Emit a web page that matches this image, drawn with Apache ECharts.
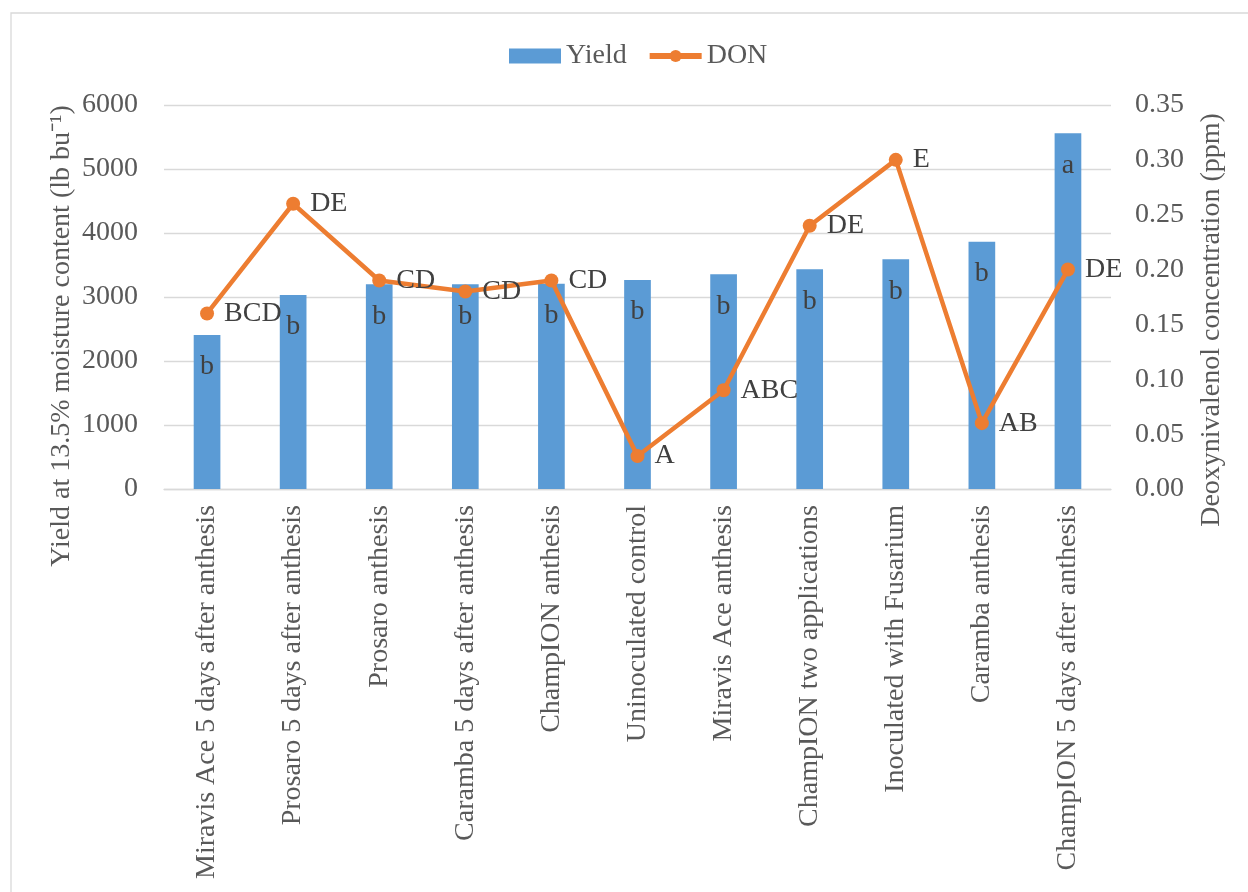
<!DOCTYPE html>
<html>
<head>
<meta charset="utf-8">
<script src="https://cdn.jsdelivr.net/npm/echarts@6/dist/echarts.min.js"></script>
<style>
html,body{margin:0;padding:0;background:#fff;}
#chart{width:1248px;height:892px;}
</style>
</head>
<body>
<div id="chart"></div>
<script>
const categories = [
  'Miravis Ace 5 days after anthesis',
  'Prosaro 5 days after anthesis',
  'Prosaro anthesis',
  'Caramba 5 days after anthesis',
  'ChampION anthesis',
  'Uninoculated control',
  'Miravis Ace anthesis',
  'ChampION two applications',
  'Inoculated with Fusarium',
  'Caramba anthesis',
  'ChampION 5 days after anthesis'
];
const yieldValues = [2406, 3030, 3200, 3200, 3208, 3266, 3354, 3432, 3589, 3864, 5557];
const yieldLetters = ['b', 'b', 'b', 'b', 'b', 'b', 'b', 'b', 'b', 'b', 'a'];
const donValues = [0.16, 0.26, 0.19, 0.18, 0.19, 0.03, 0.09, 0.24, 0.30, 0.06, 0.20];
const donLetters = ['BCD', 'DE', 'CD', 'CD', 'CD', 'A', 'ABC', 'DE', 'E', 'AB', 'DE'];

const FONT = "'Liberation Serif', 'Times New Roman', serif";
const FS = 28;

const chart = echarts.init(document.getElementById('chart'));
chart.setOption({
  animation: false,
  backgroundColor: '#fff',
  textStyle: { fontFamily: FONT },
  legend: {
    top: 37,
    left: 504,
    itemWidth: 52,
    itemHeight: 15,
    itemGap: 20,
    textStyle: { fontFamily: FONT, fontSize: FS, color: '#595959' },
    data: [
      { name: 'Yield', icon: 'rect' },
      { name: 'DON', lineStyle: { width: 6 } }
    ]
  },
  grid: { left: 164, right: 137, top: 105, bottom: 403, containLabel: false },
  xAxis: {
    type: 'category',
    data: categories,
    axisLine: { lineStyle: { color: '#D9D9D9', width: 1.3 } },
    axisTick: { show: false },
    axisLabel: {
      rotate: 90, interval: 0, margin: 16,
      fontFamily: FONT, fontSize: FS, color: '#595959'
    }
  },
  yAxis: [
    {
      type: 'value', min: 0, max: 6000, interval: 1000,
      axisLine: { show: false }, axisTick: { show: false },
      axisLabel: {
        margin: 26, fontFamily: FONT, fontSize: FS, color: '#595959',
        formatter: v => String(v)
      },
      splitLine: { lineStyle: { color: '#D9D9D9', width: 1.3 } }
    },
    {
      type: 'value', min: 0, max: 0.35, interval: 0.05,
      axisLine: { show: false }, axisTick: { show: false },
      splitLine: { show: false },
      axisLabel: {
        margin: 24, fontFamily: FONT, fontSize: FS, color: '#595959',
        formatter: v => v.toFixed(2)
      }
    }
  ],
  series: [
    {
      name: 'Yield', type: 'bar', yAxisIndex: 0,
      data: yieldValues, barWidth: '31%',
      itemStyle: { color: '#5B9BD5' },
      label: {
        show: true, position: 'insideTop', distance: 18,
        fontFamily: FONT, fontSize: FS, color: '#404040',
        formatter: p => yieldLetters[p.dataIndex]
      },
      z: 2
    },
    {
      name: 'DON', type: 'line', yAxisIndex: 1,
      data: donValues,
      symbol: 'circle', symbolSize: 14,
      lineStyle: { color: '#ED7D31', width: 4.5 },
      itemStyle: { color: '#ED7D31' },
      label: {
        show: true, position: 'right', distance: 10,
        fontFamily: FONT, fontSize: FS, color: '#404040',
        formatter: p => donLetters[p.dataIndex]
      },
      z: 3
    }
  ],
  graphic: [
    {
      type: 'rect', silent: true, z: -10,
      shape: { x: 11, y: 13, width: 1250, height: 900 },
      style: { fill: 'none', stroke: '#D9D9D9', lineWidth: 1.3 }
    },
    {
      type: 'text', x: 62, y: 336, rotation: Math.PI / 2,
      style: {
        text: 'Yield at 13.5% moisture content (lb bu\u207B\u00B9)',
        font: FS + 'px ' + FONT, fill: '#595959',
        align: 'center', verticalAlign: 'middle'
      }
    },
    {
      type: 'text', x: 1212, y: 320, rotation: Math.PI / 2,
      style: {
        text: 'Deoxynivalenol concentration (ppm)',
        font: FS + 'px ' + FONT, fill: '#595959',
        align: 'center', verticalAlign: 'middle'
      }
    }
  ]
});
</script>
</body>
</html>
